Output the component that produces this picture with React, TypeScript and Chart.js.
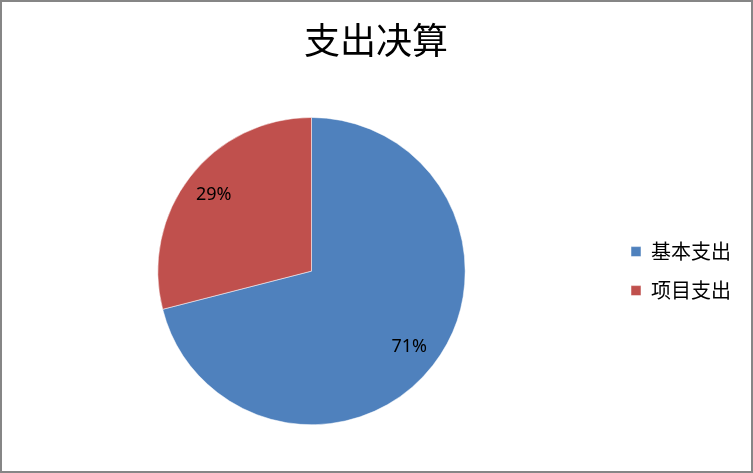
import { useRef, useEffect } from "react";
import { Chart, registerables } from "chart.js";
import type { Plugin } from "chart.js";

Chart.register(...registerables);

const TITLE = "支出决算";
const categories = ["基本支出", "项目支出"];
const values = [71, 29];
const colors = ["#4F81BD", "#C0504D"];

const CJK = '"Noto Sans CJK SC", "Noto Sans", sans-serif';

// percent labels inside the slices, about 0.8 of the radius out
const sliceLabels: Plugin<"pie"> = {
    id: "sliceLabels",
    afterDatasetsDraw(chart) {
        const ctx = chart.ctx;
        const meta = chart.getDatasetMeta(0);
        const data = chart.data.datasets[0].data as number[];
        const total = data.reduce((a, b) => a + b, 0);
        ctx.save();
        ctx.font = '18px "Noto Sans", sans-serif';
        ctx.fillStyle = "#000";
        ctx.textAlign = "center";
        ctx.textBaseline = "middle";
        meta.data.forEach((el, i) => {
            const { x, y, startAngle, endAngle, outerRadius } = el.getProps(
                ["x", "y", "startAngle", "endAngle", "outerRadius"],
                true
            ) as any;
            const mid = (startAngle + endAngle) / 2;
            const r = outerRadius * 0.805;
            const pct = Math.round((data[i] / total) * 100);
            ctx.fillText(pct + "%", x + Math.cos(mid) * r, y + Math.sin(mid) * r);
        });
        ctx.restore();
    }
};

export default function App() {
    const canvasRef = useRef<HTMLCanvasElement>(null);

    useEffect(() => {
        const canvas = canvasRef.current;
        if (!canvas) return;

        const chart = new Chart(canvas, {
            type: "pie",
            data: {
                labels: categories,
                datasets: [
                    {
                        data: values,
                        backgroundColor: colors,
                        borderColor: "#ffffff",
                        borderWidth: 0.5
                    }
                ]
            },
            options: {
                responsive: true,
                maintainAspectRatio: false,
                animation: false,
                layout: { padding: { left: 9, right: 10, top: 0, bottom: 46 } },
                plugins: {
                    title: {
                        display: true,
                        text: TITLE,
                        color: "#000",
                        font: { family: CJK, size: 36, weight: "normal", lineHeight: 1.2 },
                        padding: { top: 17, bottom: 55 }
                    },
                    legend: {
                        display: true,
                        position: "right",
                        fullSize: false,
                        labels: {
                            color: "#000",
                            font: { family: CJK, size: 20 },
                            boxWidth: 10,
                            boxHeight: 10,
                            padding: 19
                        }
                    },
                    tooltip: { enabled: false }
                }
            },
            plugins: [sliceLabels]
        });

        return () => chart.destroy();
    }, []);

    return (
        <>
            <style>{"body{margin:0}"}</style>
            <div
                style={{
                    position: "relative",
                    width: 753,
                    height: 473,
                    boxSizing: "border-box",
                    border: "2px solid #868686",
                    background: "#fff"
                }}
            >
                <canvas ref={canvasRef} />
            </div>
        </>
    );
}
